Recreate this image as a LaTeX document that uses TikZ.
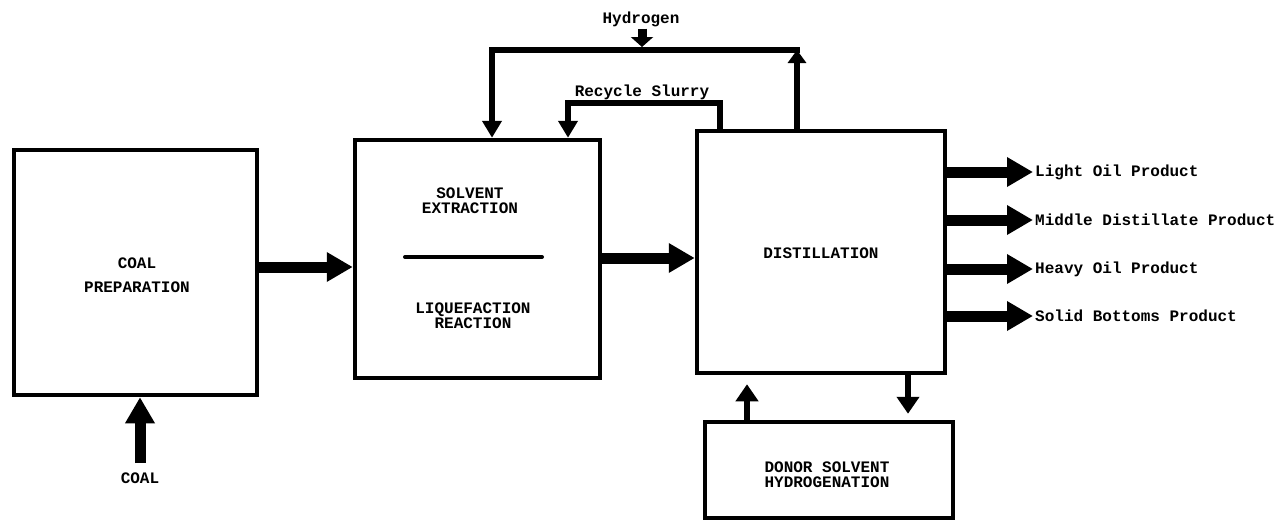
\documentclass[tikz,border=0pt]{standalone}
\usepackage{fontspec}
\newfontfamily\dfont{Liberation Mono}
\usetikzlibrary{arrows.meta}
\tikzset{
  box/.style={draw, line width=4.5pt, inner sep=0pt},
  lbl/.style={font=\dfont\bfseries\fontsize{16}{15}\selectfont, inner sep=2pt, align=center},
  fat/.style={line width=11pt, -{Triangle[length=26pt,width=28pt]}},
  medarrow/.style={line width=5.5pt, -{Triangle[length=17pt,width=22pt]}},
  loopline/.style={line width=6pt, line join=miter},
  looparrow/.style={loopline, -{Triangle[length=17pt,width=19pt]}},
  uparrow/.style={loopline, -{Triangle[length=13pt,width=18pt]}},
  htwo/.style={line width=9pt, -{Triangle[length=10pt,width=22pt]}},
  divider/.style={line width=4pt, line cap=round}
}
\begin{document}
\begin{tikzpicture}[x=1pt,y=-1pt]
\useasboundingbox (0,0) rectangle (1288,522);
\fill[white] (0,0) rectangle (1288,522);

% boxes
\node[box, minimum width=243pt, minimum height=245pt] (prep) at (135.5,272.5) {};
\node[box, minimum width=245pt, minimum height=238pt] (solv) at (477.5,259) {};
\node[box, minimum width=248pt, minimum height=242pt] (dist) at (821,252) {};
\node[box, minimum width=248pt, minimum height=96pt] (donor) at (829,470) {};

% box texts
\node[lbl] (prept) at (137,275) {COAL\\[9pt]PREPARATION};
\node[lbl] (set) at (470,200.5) {SOLVENT\\EXTRACTION};
\coordinate (dl) at (405,257);
\coordinate (dr) at (542,257);
\draw[divider] (dl) -- (dr);
\node[lbl] (lrt) at (473,315.5) {LIQUEFACTION\\REACTION};
\node[lbl] (distt) at (821,253) {DISTILLATION};
\node[lbl] (donort) at (827,474.5) {DONOR SOLVENT\\HYDROGENATION};

% coal input
\node[lbl] (coal) at (140,478) {COAL};
\coordinate (cin) at (140,463);
\draw[fat] (cin) -- (cin |- prep.south);

% main flow
\draw[fat] (prep.east |- 0,267) -- (solv.west |- 0,267);
\draw[fat] (solv.east |- 0,258) -- (dist.west |- 0,258);

% products
\node[lbl, anchor=west] (p1) at (1033,172) {Light Oil Product};
\node[lbl, anchor=west] (p2) at (1033,220) {Middle Distillate Product};
\node[lbl, anchor=west] (p3) at (1033,269) {Heavy Oil Product};
\node[lbl, anchor=west] (p4) at (1033,316) {Solid Bottoms Product};
\draw[fat] (dist.east |- p1.west) -- (p1.west);
\draw[fat] (dist.east |- p2.west) -- (p2.west);
\draw[fat] (dist.east |- p3.west) -- (p3.west);
\draw[fat] (dist.east |- p4.west) -- (p4.west);

% donor solvent loop
\draw[medarrow, shorten >=9pt] (donor.north -| 747,0) -- (dist.south -| 747,0);
\draw[medarrow, shorten >=6pt] (dist.south -| 908,0) -- (donor.north -| 908,0);

% hydrogen loop
\coordinate (hr) at (797,50);
\coordinate (hl) at (492,50);
\coordinate (hm) at (642,47);
\draw[uparrow] (dist.north -| hr) -- (hr);
\draw[looparrow] ([xshift=3pt]hr) -- (hl) -- (solv.north -| hl);
\node[lbl] (h2) at (641,19) {Hydrogen};
\draw[htwo] (h2.south -| hm) -- (hm);

% recycle slurry
\coordinate (rr) at (720,103);
\coordinate (rl) at (568,103);
\draw[looparrow] (dist.north -| rr) -- (rr) -- (rl) -- (solv.north -| rl);
\node[lbl] (rs) at (642,92) {Recycle Slurry};
\end{tikzpicture}
\end{document}
